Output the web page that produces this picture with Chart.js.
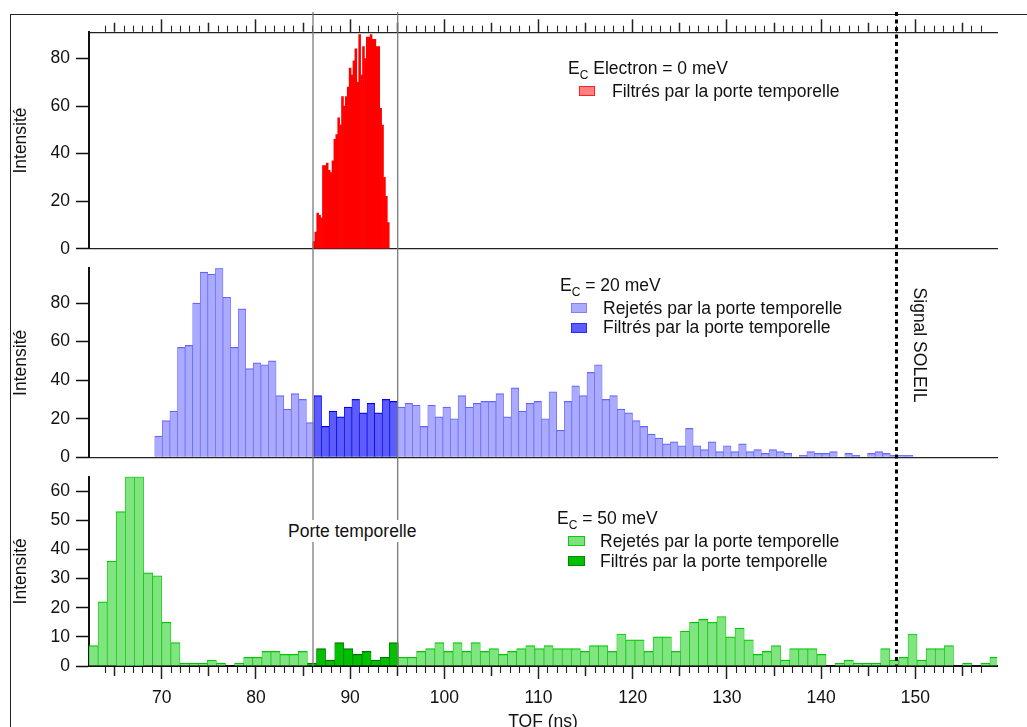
<!DOCTYPE html>
<html>
<head>
<meta charset="utf-8">
<script src="https://cdn.jsdelivr.net/npm/chart.js@4.4.1/dist/chart.umd.min.js"></script>
<style>
html,body{margin:0;padding:0;background:#fff;overflow:hidden;}
#wrap{position:relative;width:1027px;height:727px;overflow:hidden;background:#fff;font-family:"Liberation Sans",Arial,sans-serif;color:#111;}
canvas{position:absolute;left:0;}
#frame{position:absolute;left:10px;top:14px;width:1100px;height:800px;border-left:1.5px solid #222;border-top:1.5px solid #222;}
.txt{position:absolute;font-size:17.5px;line-height:20px;white-space:nowrap;}
.sw{position:absolute;width:16px;height:10px;box-sizing:border-box;border:1px solid;}
.sub{font-size:12px;position:relative;top:5px;}
#gateLabel{background:#fff;padding:1px 5px;line-height:20px;}
#soleil{transform:rotate(90deg);transform-origin:center center;}
</style>
</head>
<body>
<div id="wrap">
<div id="frame"></div>
<canvas id="c1" width="1027" height="258" style="top:0px"></canvas>
<canvas id="c2" width="1027" height="208" style="top:258px"></canvas>
<canvas id="c3" width="1027" height="280" style="top:466px"></canvas>

<div class="txt" style="left:568px;top:58px">E<span class="sub">C</span> Electron = 0 meV</div>
<div class="sw" style="left:579px;top:86px;background:#ff8080;border-color:#ff2020"></div>
<div class="txt" style="left:612px;top:81px">Filtrés par la porte temporelle</div>

<div class="txt" style="left:560px;top:275px">E<span class="sub">C</span> = 20 meV</div>
<div class="sw" style="left:571px;top:303px;background:#aaaaff;border-color:#8080ff"></div>
<div class="txt" style="left:603px;top:298px">Rejetés par la porte temporelle</div>
<div class="sw" style="left:571px;top:323px;background:#5c5cff;border-color:#2a2aff"></div>
<div class="txt" style="left:603px;top:317px">Filtrés par la porte temporelle</div>

<div class="txt" style="left:557px;top:508px">E<span class="sub">C</span> = 50 meV</div>
<div class="sw" style="left:568px;top:536px;width:17px;background:#80e080;border-color:#10c810"></div>
<div class="txt" style="left:600px;top:531px">Rejetés par la porte temporelle</div>
<div class="sw" style="left:568px;top:556px;width:17px;background:#00c000;border-color:#008a00"></div>
<div class="txt" style="left:600px;top:551px">Filtrés par la porte temporelle</div>

<div class="txt" id="gateLabel" style="left:283px;top:520px">Porte temporelle</div>
<div class="txt" id="soleil" style="left:862px;top:335px;width:116px;text-align:center">Signal SOLEIL</div>
</div>

<script>
// ---------------- data ----------------
const tofMin = 62.28;
const tofMax = 158.67;
const gateStart = 86.06;
const gateEnd = 95.05;
const soleilSignal = 148.0;

// E_C electron = 0 meV (red), bins of ~0.2 ns
const redStart = 86.05;
const redWidth = 0.2025;
const redFiltered = [3, 7, 15, 14, 13, 35, 35, 36, 33, 32, 37, 46, 48, 55, 52, 64, 60, 64, 68, 76,
                     73, 79, 84, 70, 90, 73, 85, 80, 89, 89, 90, 88, 88, 85, 85, 59, 52, 30, 22, 11];

// E_C = 20 meV (blue), bins of ~0.8 ns
const blueStart = 69.26;
const blueWidth = 0.805;
const blueCounts = [11, 19, 24, 57, 58, 80, 96, 95, 98, 83, 57, 77, 46, 49, 48, 50, 32, 25, 33, 30, 18,
                    32, 16, 24, 21, 26, 30, 23, 28, 23, 30, 29,
                    26, 28, 27, 16, 27, 21, 26, 20, 32, 26, 28, 29, 29, 33, 21, 36, 24, 28, 29, 20,
                    34, 14, 29, 37, 32, 44, 48, 30, 32, 25, 23, 19, 16, 12, 10, 7, 8, 6, 15, 6,
                    4, 8, 3, 6, 3, 7, 3, 4, 2, 4, 3,
                    2, 0, 1, 3, 2, 2, 3, 0, 2, 1, 0, 2, 3, 2, 1, 1, 1];
const blueGateBins = [21, 31];

// E_C = 50 meV (green), bins of ~0.97 ns
const greenStart = 62.28;
const greenWidth = 0.966;
const greenCounts = [7, 22, 36, 53, 65, 65, 32, 31, 15, 8, 1, 1, 1, 2, 1, 0, 1, 3, 3, 5,
                     5, 4, 4, 5, 1, 6, 2, 8, 6, 4, 5, 2, 3, 8, 3, 3, 5, 6, 8, 5,
                     8, 5, 8, 5, 6, 4, 5, 6, 7, 6, 7, 6, 6, 6, 5, 7, 7, 5, 11, 9,
                     9, 5, 10, 10, 5, 12, 15, 16, 15, 17, 10, 13, 9, 4, 5, 7, 2, 6, 6, 6,
                     4, 0, 1, 2, 1, 1, 1, 6, 2, 3, 11, 2, 6, 6, 7, 0, 1, 0, 1, 3];
const greenGateBins = [24, 33];

const yTickLabels = { top: 20, middle: 20, bottom: 10 };

// ---------------- helpers ----------------
const FONT = '"Liberation Sans", Arial, sans-serif';
Chart.defaults.font.family = FONT;
Chart.defaults.font.size = 17.5;
Chart.defaults.color = '#111';

function bins(start, width, counts, keep) {
  const out = [];
  counts.forEach((c, i) => { if (keep(i)) out.push({ x: start + (i + 0.5) * width, y: c }); });
  return out;
}
const inRange = r => i => i >= r[0] && i <= r[1];
const outRange = r => i => i < r[0] || i > r[1];

function tickLen(v) {
  if (v === null || !Number.isInteger(v)) return 0;
  if (v % 10 === 0) return 13;
  if (v % 5 === 0) return 9;
  return 6;
}
const tv = c => (c && c.tick ? c.tick.value : null);

const markerLines = {
  id: 'markerLines',
  afterDatasetsDraw(chart, args, opts) {
    const { ctx } = chart;
    const xs = chart.scales.x;
    const y0 = opts.from - opts.offset, y1 = opts.to - opts.offset;
    ctx.save();
    ctx.lineWidth = 1.3;
    ctx.strokeStyle = '#7a7a7a';
    [gateStart, gateEnd].forEach(v => {
      const px = xs.getPixelForValue(v);
      ctx.beginPath(); ctx.moveTo(px, y0); ctx.lineTo(px, y1); ctx.stroke();
    });
    const sx = xs.getPixelForValue(soleilSignal);
    ctx.strokeStyle = '#000';
    ctx.lineWidth = 3;
    const pat = [4, 3.5];
    ctx.setLineDash(pat);
    ctx.lineDashOffset = (opts.from - 12) % (pat[0] + pat[1]);
    ctx.beginPath(); ctx.moveTo(sx, y0); ctx.lineTo(sx, opts.soleilTo - opts.offset); ctx.stroke();
    ctx.restore();
  }
};

function yAxis(max, step) {
  return {
    type: 'linear', position: 'left', min: 0, max: max, bounds: 'data',
    afterFit(s) { s.width = 89; s.paddingTop = 0; s.paddingBottom = 0; },
    ticks: { stepSize: step, includeBounds: false, padding: 6, color: '#111', font: { size: 17.5 }, autoSkip: false,
             callback: v => (v % step === 0 ? String(v) : '') },
    grid: { drawOnChartArea: false, tickLength: 13, tickWidth: 1.5,
            tickColor: c => { const v = tv(c); return v !== null && v % step === 0 ? '#111' : 'rgba(0,0,0,0)'; } },
    border: { display: true, width: 2, color: '#111' },
    title: { display: true, text: 'Intensité', color: '#111', font: { size: 17.5 }, padding: { top: 11, bottom: 0 } }
  };
}

function barAxis(display) {
  return {
    type: 'linear', position: 'bottom', min: tofMin, max: tofMax, offset: false, display: display,
    afterFit(s) { s.height = 0; s.paddingLeft = 0; s.paddingRight = 0; },
    ticks: { display: false },
    grid: { display: false, drawTicks: false, offset: false },
    border: { display: true, width: 1.3, color: '#222' }
  };
}

function barSet(label, data, fill, border, bw) {
  return {
    label, data, backgroundColor: fill, borderColor: border,
    borderWidth: bw, borderSkipped: 'start', grouped: false,
    barPercentage: 1, categoryPercentage: 1, xAxisID: 'x', yAxisID: 'y'
  };
}
const edge = { top: 1.2, left: 0.7, right: 0.7, bottom: 0 };
const baseOpts = { responsive: false, animation: false, events: [] };

function tickGrid(isTop) {
  return {
    drawOnChartArea: false, tickLength: 13, offset: false,
    tickWidth: c => (tickLen(tv(c)) >= 9 ? 1.5 : 1.1),
    tickColor: c => (tickLen(tv(c)) ? '#222' : 'rgba(0,0,0,0)'),
    tickBorderDash: c => {
      const L = tickLen(tv(c));
      if (L >= 13 || L === 0) return [];
      return isTop ? [0, 12.4 - L, L, 200] : [L, 200];
    }
  };
}

// ---------------- top panel (0 meV) ----------------
new Chart(document.getElementById('c1'), {
  type: 'bar',
  data: { datasets: [barSet('Filtrés par la porte temporelle', bins(redStart, redWidth, redFiltered, () => true), '#ff0000', '#ff0000', 0)] },
  options: Object.assign({}, baseOpts, {
    layout: { padding: { top: 19.3, bottom: 9.3, left: 0, right: 30 } },
    plugins: { legend: { display: false }, tooltip: { enabled: false },
               markerLines: { offset: 0, from: 12, to: 258, soleilTo: 258 } },
    scales: {
      xt: {
        type: 'linear', position: 'top', min: tofMin, max: tofMax, offset: false,
        afterFit(s) { s.height = 13; s.paddingLeft = 0; s.paddingRight = 0; },
        ticks: { display: false, stepSize: 1, autoSkip: false },
        grid: tickGrid(true),
        border: { display: true, width: 1.3, color: '#222' }
      },
      x: barAxis(true),
      y: yAxis(91, yTickLabels.top)
    }
  }),
  plugins: [markerLines]
});

// ---------------- middle panel (20 meV) ----------------
new Chart(document.getElementById('c2'), {
  type: 'bar',
  data: { datasets: [
    barSet('Rejetés par la porte temporelle', bins(blueStart, blueWidth, blueCounts, outRange(blueGateBins)), '#aaaaff', '#6464ff', edge),
    barSet('Filtrés par la porte temporelle', bins(blueStart, blueWidth, blueCounts, inRange(blueGateBins)), '#5c5cff', '#0000ee', edge)
  ] },
  options: Object.assign({}, baseOpts, {
    layout: { padding: { top: 10.3, bottom: 8.7, left: 0, right: 30 } },
    plugins: { legend: { display: false }, tooltip: { enabled: false },
               markerLines: { offset: 258, from: 258, to: 466, soleilTo: 466 } },
    scales: {
      x: barAxis(true),
      y: yAxis(98, yTickLabels.middle)
    }
  }),
  plugins: [markerLines]
});

// ---------------- bottom panel (50 meV) ----------------
new Chart(document.getElementById('c3'), {
  type: 'bar',
  data: { datasets: [
    barSet('Rejetés par la porte temporelle', bins(greenStart, greenWidth, greenCounts, outRange(greenGateBins)), '#80e480', '#00c800', edge),
    barSet('Filtrés par la porte temporelle', bins(greenStart, greenWidth, greenCounts, inRange(greenGateBins)), '#00c000', '#007400', edge)
  ] },
  options: Object.assign({}, baseOpts, {
    layout: { padding: { top: 10.7, bottom: 0, left: 0, right: 30 } },
    plugins: { legend: { display: false }, tooltip: { enabled: false },
               markerLines: { offset: 466, from: 466, to: 666, soleilTo: 666 } },
    scales: {
      x: barAxis(false),
      xt: {
        type: 'linear', position: 'bottom', min: tofMin, max: tofMax, offset: false,
        afterFit(s) { s.height = 80; s.paddingLeft = 0; s.paddingRight = 0; },
        ticks: { stepSize: 1, autoSkip: false, maxRotation: 0, minRotation: 0, padding: 8.5, color: '#111',
                 font: { size: 17.5 },
                 callback: v => (Number.isInteger(v) && v % 10 === 0 ? String(v) : '') },
        grid: tickGrid(false),
        border: { display: true, width: 2, color: '#111' },
        title: { display: true, text: 'TOF (ns)', color: '#111', font: { size: 17.5 }, padding: { top: 0, bottom: 13.5 } }
      },
      y: yAxis(65, yTickLabels.bottom)
    }
  }),
  plugins: [markerLines]
});
</script>
</body>
</html>
